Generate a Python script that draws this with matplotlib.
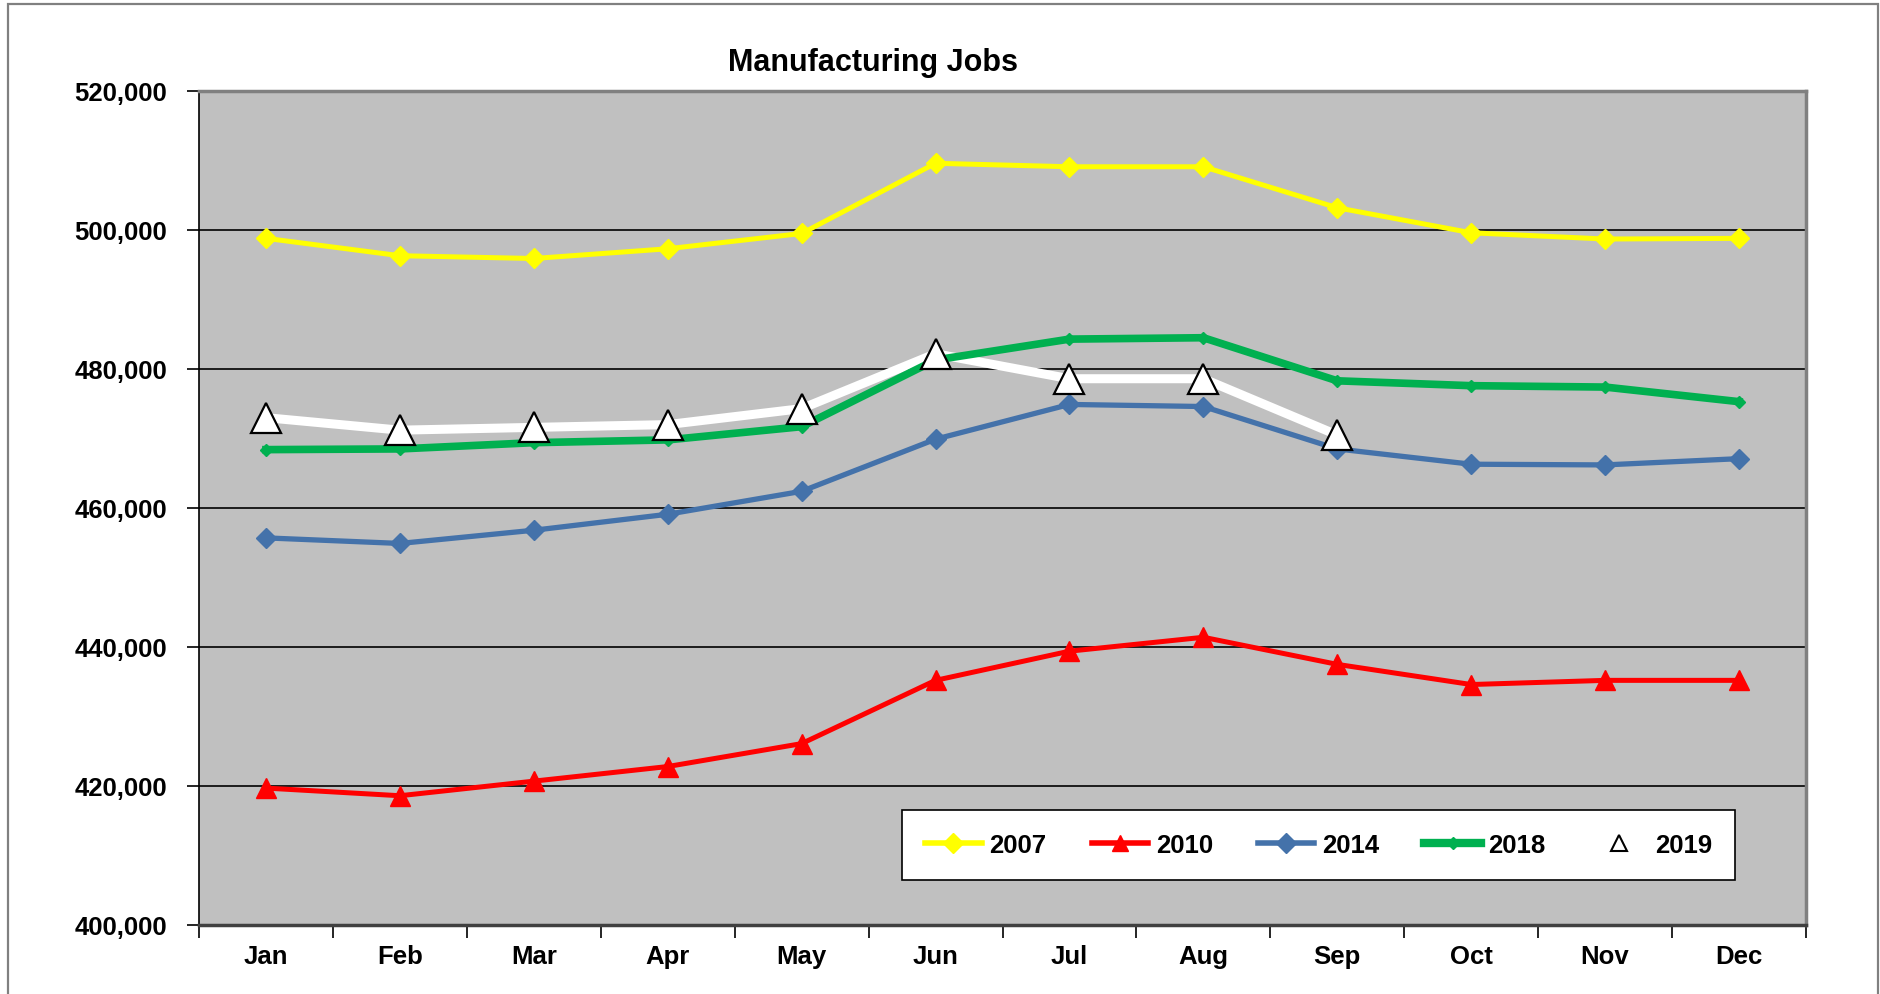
import matplotlib.pyplot as plt
from matplotlib.lines import Line2D
from matplotlib.patches import Rectangle
from matplotlib.ticker import FuncFormatter, FixedLocator

months = ['Jan', 'Feb', 'Mar', 'Apr', 'May', 'Jun', 'Jul', 'Aug', 'Sep', 'Oct', 'Nov', 'Dec']

jobs_2007 = [498800, 496300, 495900, 497300, 499500, 509600, 509100, 509100, 503200, 499600, 498700, 498800]
jobs_2010 = [419700, 418600, 420700, 422800, 426100, 435200, 439400, 441400, 437500, 434600, 435200, 435200]
jobs_2014 = [455700, 454900, 456800, 459100, 462400, 469900, 474900, 474600, 468500, 466300, 466200, 467100]
jobs_2018 = [468400, 468500, 469400, 469800, 471700, 481300, 484300, 484500, 478300, 477600, 477400, 475300]
jobs_2019 = [473000, 471200, 471600, 472000, 474300, 482200, 478600, 478600, 470500]

plt.rcParams['font.family'] = ['Liberation Sans', 'DejaVu Sans']
plt.rcParams['font.weight'] = 'bold'

fig = plt.figure(figsize=(18.8, 9.95), dpi=100)
fig.patches.append(Rectangle((8 / 1880, -0.1), 1870 / 1880, 1.095, transform=fig.transFigure,
                             fill=False, edgecolor='#808080', linewidth=1.6))

ax = fig.add_axes([199 / 1880, 1 - 926 / 995, 1607 / 1880, 834 / 995])
ax.set_facecolor('#C0C0C0')

x = list(range(12))
x19 = list(range(len(jobs_2019)))

ax.plot(x, jobs_2007, color='#FFFF00', linewidth=3.6, marker='D', markersize=10, zorder=3)
ax.plot(x, jobs_2010, color='#FF0000', linewidth=3.6, marker='^', markersize=14, zorder=3)
ax.plot(x, jobs_2014, color='#4472AA', linewidth=3.8, marker='D', markersize=10, zorder=3)
ax.plot(x19, jobs_2019, color='white', linewidth=6.5, zorder=3)
ax.plot(x, jobs_2018, color='#00B050', linewidth=5.5, marker='D', markersize=6, zorder=4)
ax.plot(x19, jobs_2019, linestyle='none', marker='^', markersize=21, markerfacecolor='white',
        markeredgecolor='black', markeredgewidth=1.6, zorder=5)

ax.set_xlim(-0.5, 11.5)
ax.set_ylim(400000, 520000)
ax.set_yticks(range(400000, 520001, 20000))
ax.yaxis.set_major_formatter(FuncFormatter(lambda v, p: f'{int(v):,}'))
ax.grid(axis='y', color='black', linewidth=1.2, zorder=1)
ax.set_axisbelow(True)

ax.set_xticks(x)
ax.set_xticklabels(months)
ax.xaxis.set_minor_locator(FixedLocator([i - 0.5 for i in range(13)]))
ax.tick_params(axis='x', which='major', length=0, pad=14, labelsize=18.5)
ax.tick_params(axis='x', which='minor', length=9, width=1.2, direction='out')
ax.tick_params(axis='y', length=9, width=1.2, direction='out', pad=14, labelsize=18.5)
for lab in ax.get_xticklabels() + ax.get_yticklabels():
    lab.set_fontweight('bold')

for side in ['top', 'right']:
    ax.spines[side].set_color('#808080')
    ax.spines[side].set_linewidth(2.5)
ax.spines['left'].set_color('black')
ax.spines['left'].set_linewidth(1.2)
ax.spines['bottom'].set_color('#404040')
ax.spines['bottom'].set_linewidth(2.5)

fig.text(873 / 1880, 1 - 63 / 995, 'Manufacturing Jobs', ha='center', va='center',
         fontsize=22, fontweight='bold')

handles = [
    Line2D([], [], color='#FFFF00', linewidth=4, marker='D', markersize=10),
    Line2D([], [], color='#FF0000', linewidth=4, marker='^', markersize=12),
    Line2D([], [], color='#4472AA', linewidth=4, marker='D', markersize=10),
    Line2D([], [], color='#00B050', linewidth=6, marker='D', markersize=6),
    Line2D([], [], linestyle='none', marker='^', markersize=11, markerfacecolor='white',
           markeredgecolor='black', markeredgewidth=1.5),
]
leg = ax.legend(handles, ['2007', '2010', '2014', '2018', '2019'], ncol=5,
                loc='lower left', bbox_to_anchor=(0.4375, 0.054, 0.5185, 0.083), mode='expand',
                borderaxespad=0, frameon=True, fancybox=False, framealpha=1, edgecolor='black',
                prop={'size': 18.5, 'weight': 'bold'}, handlelength=2.2, handletextpad=0.3,
                borderpad=0.9, columnspacing=1.5)
leg.get_frame().set_linewidth(1.2)
leg.set_zorder(6)

fig.savefig('out.png', dpi=100, facecolor='white')
